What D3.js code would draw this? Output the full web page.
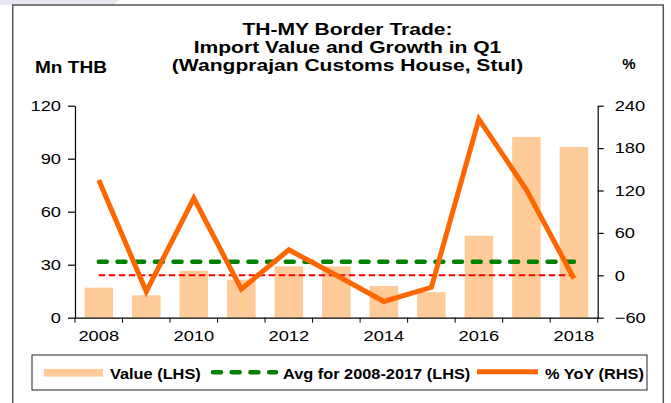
<!DOCTYPE html>
<html>
<head>
<meta charset="utf-8">
<script src="https://cdn.jsdelivr.net/npm/d3@7"></script>
<style>
  html, body { margin: 0; padding: 0; background: #ffffff; }
  svg { display: block; font-family: "Liberation Sans", Arial, sans-serif; }
</style>
</head>
<body>
<script>
// Q1 import value through Wangprajan Customs House (Stul), 2008-2018
const years = ["2008","2009","2010","2011","2012","2013","2014","2015","2016","2017","2018"];
const valueMnTHB = [17, 12.7, 26.6, 21.5, 29.1, 29, 18, 14.5, 46.4, 102.3, 96.6];
const yoyPct = [135, -23, 109, -19.5, 36, 0, -37, -17, 221, 121, -4.5];
const avgYears = ["2008","2009","2010","2011","2012","2013","2014","2015","2016","2017"];
const leftTicks = [0, 30, 60, 90, 120];
const rightTicks = [-60, 0, 60, 120, 180, 240];
const xLabelYears = ["2008","2010","2012","2014","2016","2018"];
const titleLines = ["TH-MY Border Trade:", "Import Value and Growth in Q1", "(Wangprajan Customs House, Stul)"];
const legendLabels = ["Value (LHS)", "Avg for 2008-2017 (LHS)", "% YoY (RHS)"];

const W = 671, H = 403;
const plot = { left: 75, right: 597.7, top: 105.7, bottom: 317.7 };
const COL = { bar: "#FFCC99", avg: "#008000", zero: "#FF0000", yoy: "#FF6600", axis: "#000000" };

const svg = d3.select("body").append("svg").attr("width", W).attr("height", H);

// widen text horizontally around its own anchor point
function stretch(sel, s) {
  sel.each(function () {
    const t = d3.select(this);
    const x = +t.attr("x") || 0, y = +t.attr("y") || 0;
    t.attr("x", 0).attr("y", 0).attr("transform", `translate(${x},${y}) scale(${s},1)`);
  });
}

// faint backdrop corner
svg.append("polygon").attr("points", "0,0 120,0 113,5 0,5").attr("fill", "#e7e7f3");

// outer frame
svg.append("rect").attr("x", 12.7).attr("y", 5).attr("width", 650.6).attr("height", 420)
  .attr("fill", "#fff").attr("stroke", "#555").attr("stroke-width", 1.5);

const x = d3.scaleBand().domain(years).range([plot.left, plot.right]).padding(0);
const yL = d3.scaleLinear().domain([0, 120]).range([plot.bottom, plot.top]);
const yR = d3.scaleLinear().domain([-60, 240]).range([plot.bottom, plot.top]);
const bw = x.bandwidth();
const cx = d => x(d) + bw / 2;

// bars (LHS)
svg.append("g").selectAll("rect").data(years).join("rect")
  .attr("x", (d) => x(d) + bw * 0.2)
  .attr("width", bw * 0.6)
  .attr("y", (d, i) => yL(valueMnTHB[i]))
  .attr("height", (d, i) => yL(0) - yL(valueMnTHB[i]))
  .attr("fill", COL.bar);

// zero line for the growth axis
svg.append("line")
  .attr("x1", cx(years[0])).attr("x2", cx(years[years.length - 1]))
  .attr("y1", yR(0)).attr("y2", yR(0))
  .attr("stroke", COL.zero).attr("stroke-width", 2).attr("stroke-dasharray", "6.5 3.5");

// 2008-2017 average of the value series
const avgValue = d3.mean(avgYears, d => valueMnTHB[years.indexOf(d)]);
svg.append("line")
  .attr("x1", cx(years[0])).attr("x2", cx(years[years.length - 1]))
  .attr("y1", yL(avgValue)).attr("y2", yL(avgValue))
  .attr("stroke", COL.avg).attr("stroke-width", 4.5).attr("stroke-linecap", "round")
  .attr("stroke-dasharray", "8 10.7");

// % YoY line (RHS)
const yoyLine = d3.line().x((d, i) => cx(years[i])).y(d => yR(d));
svg.append("path").datum(yoyPct).attr("d", yoyLine)
  .attr("fill", "none").attr("stroke", COL.yoy).attr("stroke-width", 5)
  .attr("stroke-linejoin", "miter");

// axes
const tickFont = g => g.selectAll("text").attr("font-size", 15).attr("fill", "#000")
  .attr("font-family", "'Liberation Sans', Arial, sans-serif");

const gL = svg.append("g").attr("transform", `translate(${plot.left},0)`)
  .call(d3.axisLeft(yL).tickValues(leftTicks).tickSizeInner(7).tickSizeOuter(0).tickPadding(7));
tickFont(gL);
stretch(gL.selectAll("text"), 1.22);

const gR = svg.append("g").attr("transform", `translate(${plot.right},0)`)
  .call(d3.axisRight(yR).tickValues(rightTicks).tickSizeInner(6).tickSizeOuter(0).tickPadding(11));
tickFont(gR);
stretch(gR.selectAll("text"), 1.22);

const gB = svg.append("g").attr("transform", `translate(0,${plot.bottom})`)
  .call(d3.axisBottom(x).tickValues(xLabelYears).tickSizeInner(0).tickSizeOuter(0).tickPadding(12.6));
tickFont(gB);
stretch(gB.selectAll("text"), 1.22);

// category boundary ticks on the x axis
const bounds = years.map(d => x(d)).concat([x(years[years.length - 1]) + bw]);
gB.append("g").selectAll("line").data(bounds).join("line")
  .attr("x1", d => d).attr("x2", d => d).attr("y1", 0).attr("y2", 5)
  .attr("stroke", COL.axis);

[gL, gR, gB].forEach(g => {
  g.selectAll("path.domain").attr("stroke", COL.axis).attr("stroke-width", 1.2);
  g.selectAll(".tick line").attr("stroke", COL.axis).attr("stroke-width", 1.2);
});

// titles
const title = svg.append("g").attr("font-weight", "bold").attr("font-size", 17).attr("fill", "#000");
const titleY = [35, 53.3, 70.8];
title.selectAll("text").data(titleLines).join("text")
  .attr("x", 347.5).attr("y", (d, i) => titleY[i])
  .attr("text-anchor", "middle").text(d => d);
stretch(title.selectAll("text"), 1.24);

const unitL = svg.append("text").attr("x", 35).attr("y", 73)
  .attr("font-weight", "bold").attr("font-size", 16).text("Mn THB");
stretch(unitL, 1.19);
const unitR = svg.append("text").attr("x", 629).attr("y", 69).attr("text-anchor", "middle")
  .attr("font-weight", "bold").attr("font-size", 15).text("%");
stretch(unitR, 1.0);

// legend
const lg = svg.append("g");
lg.append("rect").attr("x", 32).attr("y", 355).attr("width", 615).attr("height", 35)
  .attr("fill", "#fff").attr("stroke", "#222").attr("stroke-width", 1);
const legY = 372.8;
lg.append("rect").attr("x", 44).attr("y", legY - 3.8).attr("width", 59).attr("height", 7.6).attr("fill", COL.bar);
lg.append("line").attr("x1", 213).attr("x2", 276).attr("y1", legY - 0.5).attr("y2", legY - 0.5)
  .attr("stroke", COL.avg).attr("stroke-width", 4.5).attr("stroke-linecap", "round").attr("stroke-dasharray", "8 10.7");
lg.append("line").attr("x1", 477).attr("x2", 538).attr("y1", legY - 1).attr("y2", legY - 1)
  .attr("stroke", COL.yoy).attr("stroke-width", 5);
const legX = [110, 283, 545];
const lt = lg.append("g").attr("font-weight", "bold").attr("font-size", 15).attr("fill", "#000");
lt.selectAll("text").data(legendLabels).join("text")
  .attr("x", (d, i) => legX[i]).attr("y", 379).text(d => d);
stretch(lt.selectAll("text"), 1.09);
</script>
</body>
</html>
